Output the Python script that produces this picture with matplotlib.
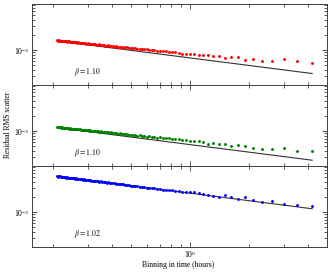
import matplotlib
matplotlib.use("Agg")
import matplotlib.pyplot as plt
from matplotlib.ticker import LogLocator, NullFormatter
import numpy as np

plt.rcParams['font.family'] = ['Liberation Serif', 'DejaVu Serif']
plt.rcParams['mathtext.fontset'] = 'stix'

# Binning in time (hours)
bin_hours = [
    0.210, 0.212, 0.214, 0.216, 0.219, 0.221, 0.223, 0.226, 0.228, 0.231,
    0.233, 0.236, 0.239, 0.241, 0.244, 0.247, 0.250, 0.253, 0.256, 0.259,
    0.263, 0.266, 0.269, 0.273, 0.276, 0.280, 0.284, 0.288, 0.292, 0.296,
    0.300, 0.304, 0.309, 0.313, 0.318, 0.323, 0.328, 0.333, 0.339, 0.344,
    0.350, 0.356, 0.362, 0.368, 0.375, 0.382, 0.389, 0.396, 0.404, 0.412,
    0.420, 0.429, 0.438, 0.447, 0.457, 0.467, 0.477, 0.488, 0.500, 0.512,
    0.525, 0.538, 0.553, 0.568, 0.583, 0.600, 0.618, 0.636, 0.656, 0.677,
    0.700, 0.724, 0.750, 0.778, 0.808, 0.840, 0.875, 0.913, 0.955, 1.000,
    1.050, 1.105, 1.167, 1.235, 1.313, 1.400, 1.500, 1.615, 1.750, 1.909,
    2.100, 2.333, 2.625, 3.000, 3.500, 4.200]

# Residual RMS scatter, in units of 1e-4
rms_red = [
    15.6, 15.4, 15.6, 15.2, 15.3, 15.3, 14.9, 15.2, 15.1, 14.9,
    15.2, 14.7, 14.8, 14.8, 14.5, 14.6, 14.7, 14.3, 14.2, 14.4,
    14.3, 14.0, 14.2, 13.9, 13.9, 14.0, 13.6, 13.8, 13.7, 13.4,
    13.7, 13.3, 13.3, 13.4, 13.0, 13.1, 13.2, 12.8, 12.7, 12.9,
    12.7, 12.4, 12.6, 12.3, 12.3, 12.4, 11.9, 12.1, 12.0, 11.7,
    12.0, 11.5, 11.6, 11.6, 11.2, 11.3, 11.4, 11.0, 10.8, 11.0,
    10.8, 10.5, 10.7, 10.3, 10.3, 10.3, 9.9, 10.0, 9.9, 9.6,
    9.75, 9.35, 9.35, 9.3, 8.95, 8.95, 8.9, 8.51, 8.51, 8.36,
    8.19, 8.06, 7.92, 7.77, 7.57, 7.43, 6.88, 7.21, 7.19, 6.45,
    6.56, 6.14, 5.95, 6.51, 5.91, 5.38]

rms_green = [
    11.9, 12.0, 11.8, 11.9, 11.6, 11.8, 11.7, 11.5, 11.7, 11.4,
    11.5, 11.6, 11.3, 11.2, 11.4, 11.2, 11.0, 11.2, 11.1, 10.9,
    11.05, 10.8, 10.85, 10.9, 10.6, 10.7, 10.7, 10.4, 10.5, 10.55,
    10.3, 10.2, 10.35, 10.1, 10.2, 9.95, 10.1, 9.85, 9.95, 9.7,
    9.8, 9.75, 9.5, 9.6, 9.4, 9.5, 9.25, 9.35, 9.1, 9.2,
    9.1, 8.9, 8.95, 8.75, 8.85, 8.6, 8.7, 8.45, 8.5, 8.3,
    8.35, 8.1, 8.2, 7.95, 8.0, 7.75, 7.85, 7.6, 7.65, 7.4,
    7.45, 7.2, 7.25, 7.1, 6.9, 6.9, 6.8, 6.55, 6.55, 6.35,
    6.31, 6.29, 6.01, 5.53, 5.80, 5.54, 5.47, 5.13, 5.19, 4.97,
    4.52, 4.39, 4.38, 4.51, 3.91, 4.01]

rms_blue = [
    52.3, 51.2, 51.9, 51.4, 50.5, 51.0, 50.6, 49.7, 50.3, 49.8,
    48.9, 49.5, 48.6, 48.9, 47.8, 48.2, 47.9, 46.9, 47.4, 46.6,
    46.9, 45.8, 46.2, 45.9, 44.9, 45.3, 44.5, 44.9, 43.7, 44.1,
    43.8, 42.8, 43.3, 42.4, 42.6, 41.6, 42.0, 41.0, 41.2, 40.3,
    40.7, 40.1, 39.3, 39.7, 38.7, 39.0, 38.0, 38.3, 37.3, 37.5,
    37.1, 36.0, 36.5, 35.5, 35.7, 35.0, 34.3, 34.6, 33.5, 33.8,
    32.9, 32.9, 32.0, 31.9, 31.4, 30.8, 30.7, 29.8, 29.9, 29.0,
    28.9, 28.1, 27.9, 27.2, 26.9, 26.2, 25.8, 25.48, 24.92, 24.59,
    24.55, 23.70, 22.55, 22.23, 20.59, 19.66, 21.91, 19.61, 18.08, 19.87,
    17.36, 15.80, 16.72, 14.73, 13.81, 12.97]

# White-noise expectation line: values at first and last bin
line_x = [0.21, 4.2]
line_red = [15.17, 3.39]
line_green = [11.67, 2.61]
line_blue = [51.9, 11.61]

beta_labels = [r'$\beta = 1.10$', r'$\beta = 1.10$', r'$\beta = 1.02$']
colors = ['#ff0000', '#008000', '#0000ff']
series = [rms_red, rms_green, rms_blue]
lines = [line_red, line_green, line_blue]

fig = plt.figure(figsize=(3.3, 2.72), dpi=100)
left, width = 32 / 330, 295 / 330
h = 81 / 272
bottoms = [(272 - 85) / 272, (272 - 166) / 272, (272 - 247) / 272]
spine_col = '#404040'

for i in range(3):
    ax = fig.add_axes([left, bottoms[i], width, h])
    x = np.array(bin_hours)
    y = np.array(series[i]) * 1e-4
    ax.plot(line_x, np.array(lines[i]) * 1e-4, color='#333333', lw=0.8, zorder=1)
    ax.plot(x, y, 'o', color=colors[i], ms=2.1, mew=0, zorder=2)
    ax.set_xscale('log')
    ax.set_yscale('log')
    ax.set_xlim(0.156, 5.0)
    ax.set_ylim(2.0e-4, 8.3e-3)
    ax.tick_params(which='both', direction='in', top=True, right=True,
                   labelsize=5.5, color=spine_col, width=0.6)
    ax.tick_params(axis='x', pad=1.5)
    ax.tick_params(axis='y', pad=2)
    ax.tick_params(which='major', length=3.6)
    ax.tick_params(which='minor', length=2.2)
    ax.xaxis.set_minor_formatter(NullFormatter())
    ax.yaxis.set_minor_formatter(NullFormatter())
    ax.yaxis.set_major_locator(LogLocator(base=10, numticks=10))
    ax.yaxis.set_minor_locator(LogLocator(base=10, subs=np.arange(2, 10), numticks=20))
    for s in ax.spines.values():
        s.set_color(spine_col)
        s.set_linewidth(0.7)
    ax.text(0.142, 0.155, beta_labels[i], transform=ax.transAxes,
            fontsize=5.5, va='center', ha='left')
    if i < 2:
        ax.tick_params(labelbottom=False)

fig.text(0.024, 0.54, 'Residual RMS scatter', rotation=90, fontsize=5.5,
         va='center', ha='center')
fig.text(0.54, 0.026, 'Binning in time (hours)', fontsize=5.5,
         va='center', ha='center')

fig.savefig('out.png', dpi=100)
